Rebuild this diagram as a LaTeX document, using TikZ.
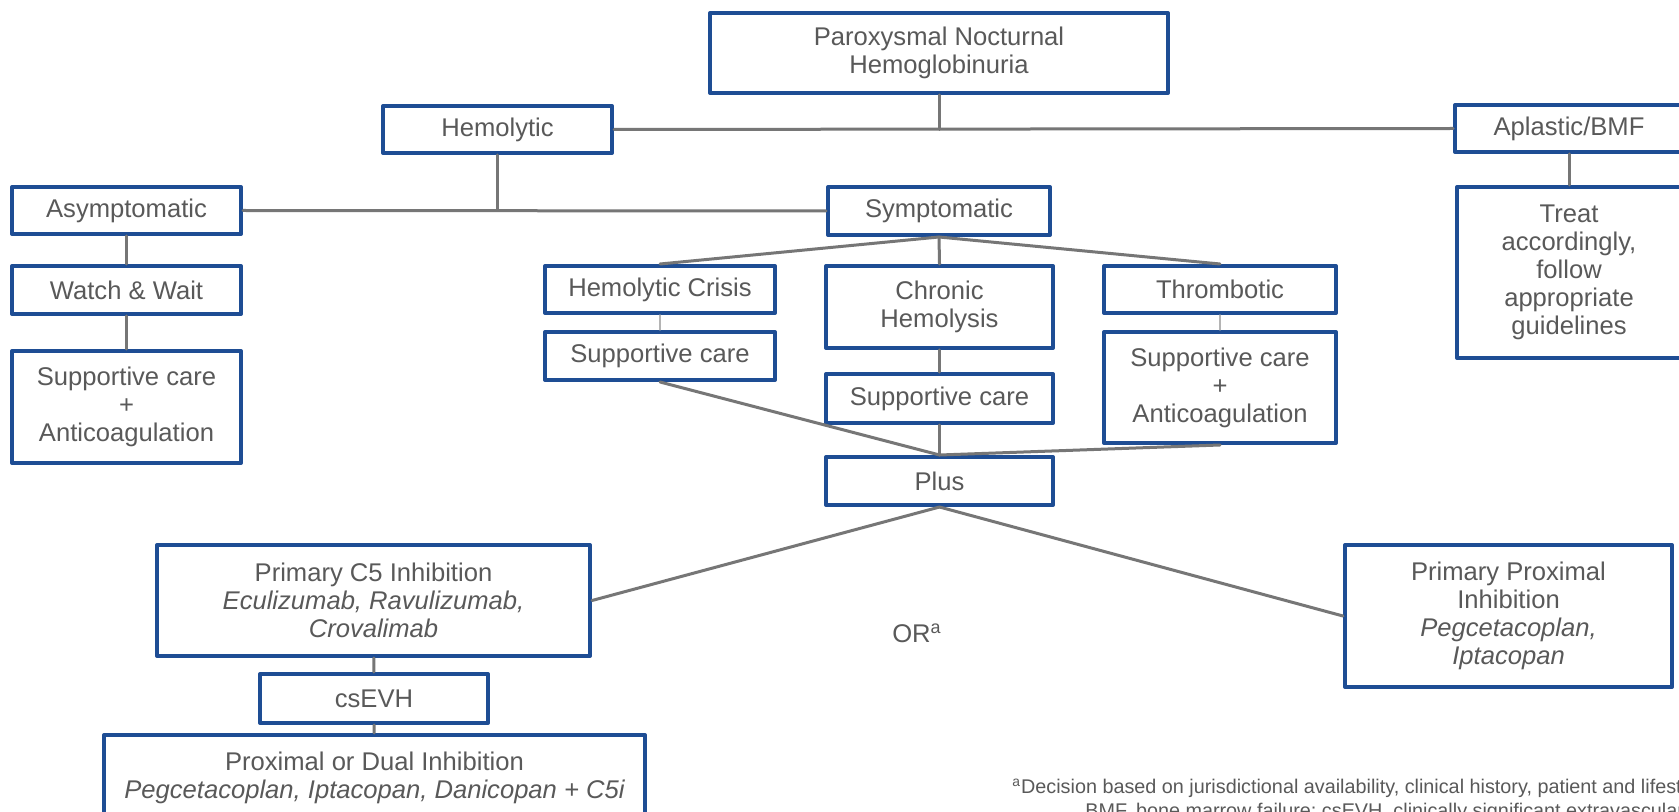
\documentclass[tikz,border=0pt]{standalone}
\usepackage{fontspec}
\setmainfont{Liberation Sans}
\definecolor{pnhblue}{RGB}{30,77,148}
\definecolor{txtgray}{RGB}{89,89,89}
\definecolor{linkgray}{RGB}{118,118,118}
\begin{document}
\begin{tikzpicture}[x=0.5pt,y=-0.5pt,line join=round,line cap=round,
    font=\fontsize{12.8}{14}\selectfont,
    box/.style={draw=pnhblue,line width=2pt,fill=white,text=txtgray,align=center,inner sep=1pt},
    link/.style={draw=linkgray,line width=1.5pt},
    thinlink/.style={draw=linkgray!55,line width=0.6pt},
    note/.style={text=txtgray,inner sep=0pt,anchor=west,font=\fontsize{9.9}{12}\selectfont}]

    % page
    \path[use as bounding box,fill=white] (0,0) rectangle (1679,812);

    % top levels
    \node[box,minimum width=229pt,minimum height=40pt] (pnh) at (939,53) {Paroxysmal Nocturnal\\Hemoglobinuria};
    \node[box,minimum width=114.5pt,minimum height=23.5pt] (hemolytic) at (497.5,129.5) {Hemolytic};
    \node[box,minimum width=114pt,minimum height=23.5pt] (aplastic) at (1569,128.5) {Aplastic/BMF};
    \node[box,minimum width=112pt,minimum height=85.5pt] (treat) at (1569,272.5) {Treat\\accordingly,\\follow\\appropriate\\guidelines};

    % asymptomatic branch
    \node[box,minimum width=114.5pt,minimum height=23.5pt] (asympt) at (126.5,210.5) {Asymptomatic};
    \node[box,minimum width=114.5pt,minimum height=24pt] (watch) at (126.5,290) {Watch \& Wait};
    \node[box,minimum width=114.5pt,minimum height=56pt] (suppasympt) at (126.5,407) {Supportive care\\+\\Anticoagulation};

    % symptomatic branch
    \node[box,minimum width=111pt,minimum height=24pt] (sympt) at (939,211) {Symptomatic};
    \node[box,minimum width=115pt,minimum height=23.5pt] (crisis) at (660,289.5) {Hemolytic Crisis};
    \node[box,minimum width=113.5pt,minimum height=41pt] (chronic) at (939.5,307) {Chronic\\Hemolysis};
    \node[box,minimum width=116pt,minimum height=23.5pt] (thromb) at (1220,289.5) {Thrombotic};
    \node[box,minimum width=115pt,minimum height=24pt] (suppcrisis) at (660,356) {Supportive care};
    \node[box,minimum width=113.5pt,minimum height=24.5pt] (suppchronic) at (939.5,398.5) {Supportive care};
    \node[box,minimum width=116pt,minimum height=55.5pt] (suppthromb) at (1220,387.5) {Supportive care\\+\\Anticoagulation};
    \node[box,minimum width=113.5pt,minimum height=24pt] (plus) at (939.5,481) {Plus};

    % treatment options
    \node[box,minimum width=216.5pt,minimum height=55.5pt] (cfive) at (373.5,600.5) {Primary C5 Inhibition\\\itshape Eculizumab, Ravulizumab,\\\itshape Crovalimab};
    \node[box,minimum width=114pt,minimum height=24.5pt] (csevh) at (374,698.5) {csEVH};
    \node[box,minimum width=270.5pt,minimum height=42.5pt] (dual) at (374.5,777.5) {Proximal or Dual Inhibition\\\itshape Pegcetacoplan, Iptacopan, Danicopan + C5i};
    \node[box,minimum width=163.5pt,minimum height=71pt] (proximal) at (1508.5,616) {Primary Proximal\\Inhibition\\\itshape Pegcetacoplan,\\\itshape Iptacopan};
    \node[text=txtgray,inner sep=0pt] (orlabel) at (917,633) {OR\textsuperscript{a}};

    % footnote
    \node[note] (fnone) at (1012,788) {\textsuperscript{a}Decision based on jurisdictional availability, clinical history, patient and lifestyle};
    \node[note] (fntwo) at (1085,812) {BMF, bone marrow failure; csEVH, clinically significant extravascular hemolysis};

    % connectors
    \draw[link] (pnh.south) -- (pnh.south |- hemolytic.east);
    \draw[link] (hemolytic.east) -- (aplastic.west);
    \draw[link] (aplastic) -- (treat);
    \draw[link] (hemolytic.south) -- (hemolytic.south |- asympt.east);
    \draw[link] (asympt.east) -- (sympt.west);
    \draw[link] (asympt) -- (watch) -- (suppasympt);
    \foreach \n in {crisis,chronic,thromb}
        \draw[link] (sympt.south) -- (\n.north);
    \draw[thinlink] (crisis) -- (suppcrisis);
    \draw[thinlink] (thromb) -- (suppthromb);
    \draw[link] (chronic) -- (suppchronic) -- (plus);
    \draw[link] (suppcrisis.south) -- (plus.north);
    \draw[link] (suppthromb.south) -- (plus.north);
    \draw[link] (plus.south) -- (cfive.east);
    \draw[link] (plus.south) -- (proximal.west);
    \draw[link] (cfive) -- (csevh) -- (dual);

\end{tikzpicture}
\end{document}
